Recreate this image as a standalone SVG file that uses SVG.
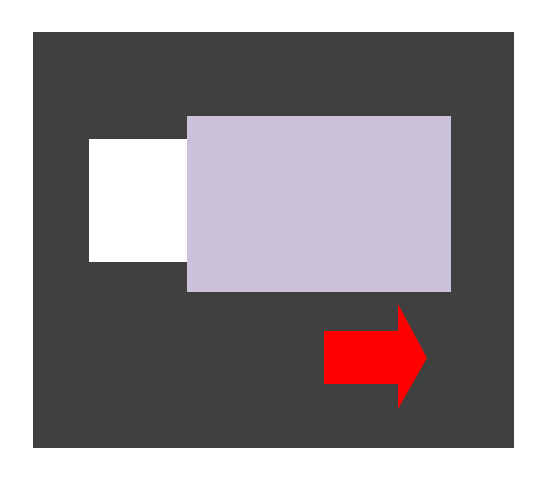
<svg xmlns="http://www.w3.org/2000/svg" width="545" height="482" viewBox="0 0 545 482">
<style>
.bg{fill:#ffffff}
.panel{fill:#404040}
</style>
<rect class="bg" x="0" y="0" width="545" height="482"/>
<rect class="panel" x="33" y="32" width="481" height="416"/>
<g id="white-box"><rect x="89" y="139" width="98" height="123" fill="#ffffff"/></g>
<g id="lavender-box"><rect x="187" y="116" width="264" height="176" fill="#cbc1d8"/></g>
<g id="red-arrow"><polygon points="324,331 398,331 398,304 427,358 398,409 398,384 324,384" fill="#ff0000"/></g>
<g id="connectors"></g>
</svg>
